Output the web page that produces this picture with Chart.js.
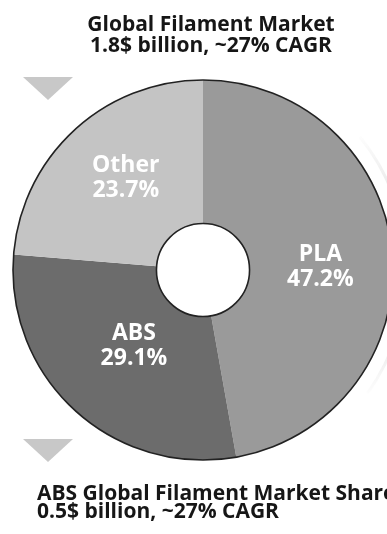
<!DOCTYPE html>
<html>
<head>
<meta charset="utf-8">
<script src="https://cdn.jsdelivr.net/npm/chart.js@4/dist/chart.umd.min.js"></script>
<style>
  html, body { margin: 0; padding: 0; width: 387px; height: 534px; overflow: hidden; background: #fff; }
  .wrap { position: absolute; left: 0; top: 0; width: 400px; height: 534px; }
  .title { position: absolute; font-family: 'Open Sans', sans-serif; font-weight: 700; color: #161616; white-space: nowrap; font-size: 21px; }
  .top { left: 0; width: 422px; top: 13px; text-align: center; line-height: 21px; }
  .bottom { left: 37px; top: 483px; line-height: 18px; }
</style>
</head>
<body>
<div class="wrap"><canvas id="myChart"></canvas></div>
<div class="title top">Global Filament Market<br>1.8$ billion, ~27% CAGR</div>
<div class="title bottom">ABS Global Filament Market Share<br>0.5$ billion, ~27% CAGR</div>
<script>
const labels = ["PLA", "ABS", "Other"];
const shares = [47.2, 29.1, 23.7];
const sliceColors = ["#9a9a9a", "#6c6c6c", "#c4c4c4"];

// outlines, slice labels and the grey decorations
const decorPlugin = {
    id: "decor",
    afterDatasetsDraw(chart) {
        const ctx = chart.ctx;
        const arcs = chart.getDatasetMeta(0).data;
        const a = arcs[0];

        ctx.save();
        ctx.strokeStyle = "#222";
        ctx.lineWidth = 1.6;
        ctx.beginPath();
        ctx.arc(a.x, a.y, a.outerRadius, 0, Math.PI * 2);
        ctx.stroke();
        ctx.beginPath();
        ctx.arc(a.x, a.y, a.innerRadius, 0, Math.PI * 2);
        ctx.stroke();

        // faint arc on the right
        const grad = ctx.createLinearGradient(0, a.y - 140, 0, a.y + 130);
        grad.addColorStop(0, "rgba(210,210,210,0)");
        grad.addColorStop(0.5, "rgba(200,200,200,1)");
        grad.addColorStop(1, "rgba(210,210,210,0)");
        ctx.strokeStyle = grad;
        ctx.lineWidth = 3;
        ctx.beginPath();
        ctx.arc(a.x - 8, a.y, a.outerRadius + 22, -0.68, 0.62);
        ctx.stroke();

        // triangles
        ctx.fillStyle = "#c8c8c8";
        [77, 439].forEach(ty => {
            ctx.beginPath();
            ctx.moveTo(23, ty);
            ctx.lineTo(73, ty);
            ctx.lineTo(48, ty + 23);
            ctx.closePath();
            ctx.fill();
        });

        // labels
        ctx.fillStyle = "#fff";
        ctx.textAlign = "center";
        ctx.textBaseline = "middle";
        ctx.font = "700 23px 'Open Sans'";
        const distFactor = [0.62, 0.54, 0.6];
        const yShift = [7, 0, -9];
        arcs.forEach((arc, i) => {
            const mid = (arc.startAngle + arc.endAngle) / 2;
            const dist = arc.outerRadius * distFactor[i];
            const px = arc.x + Math.cos(mid) * dist;
            const py = arc.y + Math.sin(mid) * dist + yShift[i];
            ctx.fillText(labels[i], px, py - 12);
            ctx.fillText(shares[i].toFixed(1) + "%", px, py + 13);
        });
        ctx.restore();
    }
};

const ctx = document.getElementById("myChart").getContext("2d");
const myChart = new Chart(ctx, {
    type: "doughnut",
    data: {
        labels: labels,
        datasets: [{
            data: shares,
            backgroundColor: sliceColors,
            borderWidth: 0,
        }],
    },
    options: {
        responsive: true,
        maintainAspectRatio: false,
        animation: false,
        cutout: "24.5%",
        layout: { padding: { left: 13, right: 7, top: 80, bottom: 74 } },
        plugins: {
            legend: { display: false },
            tooltip: { enabled: false },
        },
    },
    plugins: [decorPlugin],
});
</script>
</body>
</html>
